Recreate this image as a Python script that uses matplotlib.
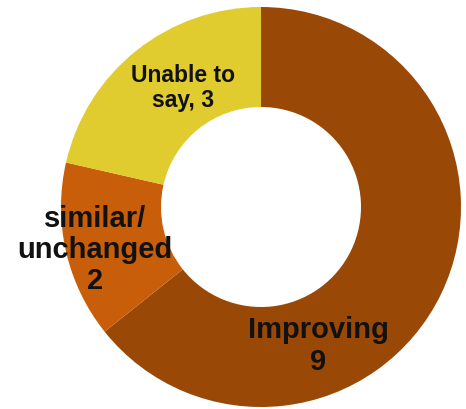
import matplotlib
matplotlib.use("Agg")
import matplotlib.pyplot as plt

# data
labels = ["Improving", "similar/\nunchanged", "Unable to\nsay"]
values = [9, 2, 3]
colors = ["#994806", "#C85E0A", "#E1CC30"]

plt.rcParams['font.family'] = ['Liberation Sans', 'DejaVu Sans']

fig = plt.figure(figsize=(4.66, 4.10), dpi=100)
ax = fig.add_axes([0, 0, 1, 1])

# donut, clockwise from the top
ax.pie(values, colors=colors, startangle=90, counterclock=False,
       radius=1.0, center=(0, 0),
       wedgeprops=dict(width=0.5, edgecolor="none"))

# labels placed by hand to match the picture
ax.text(-0.39, 0.60, "%s, %d" % (labels[2], values[2]), ha="center", va="center",
        fontsize=16.5, fontweight="bold", color="#111111", linespacing=1.15)
ax.text(-0.83, -0.21, "%s\n%d" % (labels[1], values[1]), ha="center", va="center",
        fontsize=21, fontweight="bold", color="#111111", linespacing=1.15)
ax.text(0.285, -0.69, "%s\n%d" % (labels[0], values[0]), ha="center", va="center",
        fontsize=21, fontweight="bold", color="#111111", linespacing=1.15)

# center at pixel (261, 208), radius 200 px
ax.set_xlim(-261 / 200, (466 - 261) / 200)
ax.set_ylim(-(410 - 208) / 200, 208 / 200)
ax.set_aspect("equal")
ax.axis("off")

fig.savefig("out.png", dpi=100)
